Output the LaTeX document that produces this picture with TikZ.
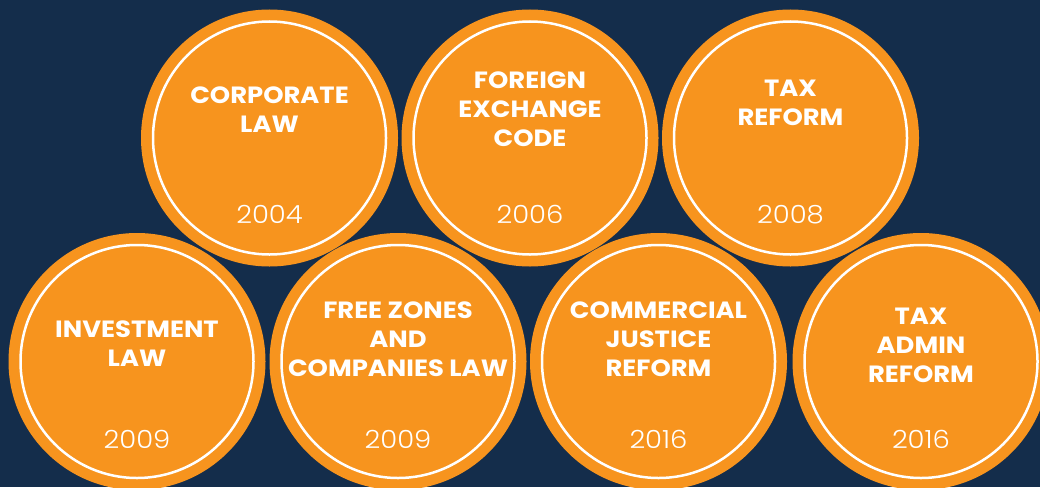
\documentclass[tikz,border=0pt]{standalone}
\usepackage{fontspec}
\setmainfont{Poppins}
\newfontfamily\lawface{Poppins}[FakeStretch=1.1]
\newfontfamily\yearface{Poppins Light}[FakeStretch=1.1]
\newcommand\lawfont{\fontsize{23.5}{29}\selectfont\lawface\bfseries}
\newcommand\yearfont{\fontsize{25}{30}\selectfont\yearface}
\definecolor{lawOrange}{HTML}{F7941E}
\definecolor{navy}{HTML}{142D4B}

\begin{document}
\begin{tikzpicture}[x=1pt,y=-1pt]
\tikzstyle{disc}=[circle,fill=lawOrange,minimum size=257pt,inner sep=0pt]
\tikzstyle{ring}=[circle,draw=white,line width=2.5pt,minimum size=233pt,inner sep=0pt]
\tikzstyle{law}=[text=white,font=\lawfont,align=center,anchor=base,inner sep=0pt]
\tikzstyle{year}=[text=white,font=\yearfont,anchor=base,inner sep=0pt]
\useasboundingbox (0,0) rectangle (1040,487);
\clip (0,0) rectangle (1040,487);
\fill[navy] (0,0) rectangle (1040,487);
% top row
\node[disc] (cl) at (269.5,138) {};
\node[disc] (fe) at (530,138) {};
\node[disc] (tr) at (790.5,138) {};
% bottom row
\node[disc] (il) at (137,361.5) {};
\node[disc] (fz) at (398,361.5) {};
\node[disc] (cj) at (658.5,361.5) {};
\node[disc] (ta) at (921,361.5) {};
% white rings
\node[ring] (clring) at (cl) {};
\node[ring] (fering) at (fe) {};
\node[ring] (trring) at (tr) {};
\node[ring] (ilring) at (il) {};
\node[ring] (fzring) at (fz) {};
\node[ring] (cjring) at (cj) {};
\node[ring] (taring) at (ta) {};
% labels (base = last line)
\node[law] (cltext) at (269.5,132) {CORPORATE\\LAW};
\node[law] (fetext) at (530,146) {FOREIGN\\EXCHANGE\\CODE};
\node[law] (trtext) at (790.5,125) {TAX\\REFORM};
\node[law] (iltext) at (137,366.7) {INVESTMENT\\LAW};
\node[law] (fztext) at (398,376) {FREE ZONES\\AND\\COMPANIES LAW};
\node[law] (cjtext) at (658.5,376) {COMMERCIAL\\JUSTICE\\REFORM};
\node[law] (tatext) at (921,382.7) {TAX\\ADMIN\\REFORM};
% years
\node[year] (clyear) at (269.5,223) {2004};
\node[year] (feyear) at (530,223) {2006};
\node[year] (tryear) at (790.5,223) {2008};
\node[year] (ilyear) at (137,448) {2009};
\node[year] (fzyear) at (398,448) {2009};
\node[year] (cjyear) at (658.5,448) {2016};
\node[year] (tayear) at (921,448) {2016};
\end{tikzpicture}
\end{document}
